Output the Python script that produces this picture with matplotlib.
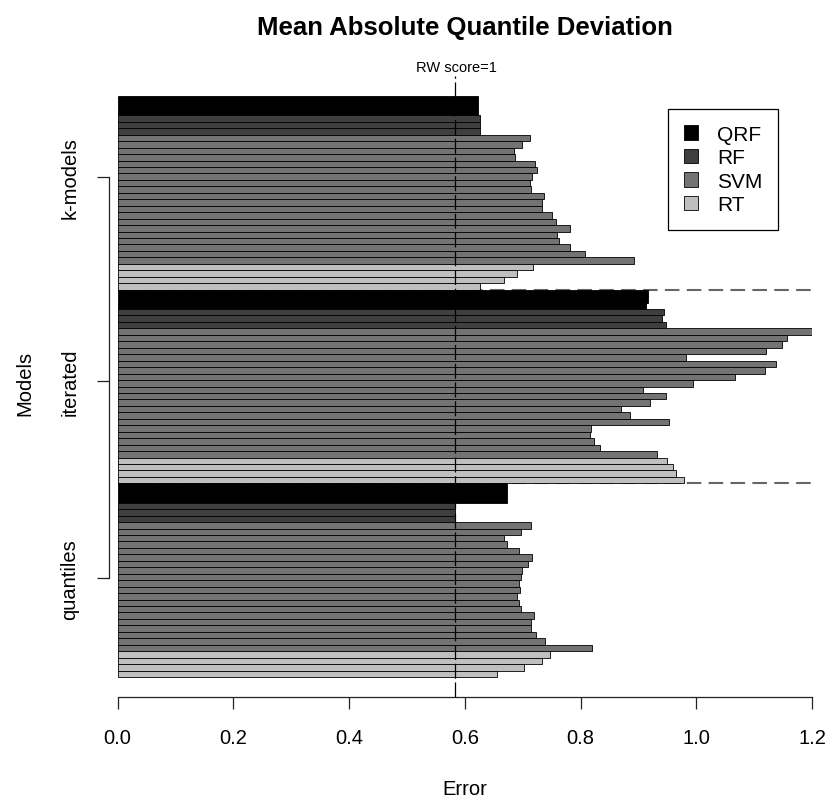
import matplotlib
matplotlib.use("Agg")
import matplotlib.pyplot as plt
from matplotlib.patches import Patch

plt.rcParams['font.family'] = ['Liberation Sans', 'DejaVu Sans']

# ---- data (each group read top-to-bottom) ----
groups = ["k-models", "iterated", "quantiles"]
models = ["QRF", "RF", "SVM", "RT"]
model_colors = ["#000000", "#3f3f3f", "#737373", "#bfbfbf"]

kmodels_qrf = [0.623, 0.623, 0.623]
kmodels_rf = [0.626, 0.626, 0.626]
kmodels_svm = [0.713, 0.699, 0.685, 0.687, 0.721, 0.725, 0.717, 0.713, 0.714, 0.737,
               0.734, 0.734, 0.750, 0.757, 0.782, 0.760, 0.762, 0.782, 0.808, 0.892]
kmodels_rt = [0.718, 0.691, 0.667, 0.626]

iterated_qrf = [0.917, 0.916, 0.914]
iterated_rf = [0.944, 0.940, 0.948]
iterated_svm = [1.204, 1.156, 1.149, 1.121, 0.982, 1.138, 1.118, 1.067, 0.995, 0.908,
                0.948, 0.920, 0.870, 0.885, 0.953, 0.819, 0.816, 0.823, 0.834, 0.932]
iterated_rt = [0.950, 0.959, 0.965, 0.978]

quantiles_qrf = [0.673, 0.673, 0.673]
quantiles_rf = [0.584, 0.584, 0.584]
quantiles_svm = [0.714, 0.698, 0.667, 0.673, 0.693, 0.717, 0.710, 0.699, 0.697, 0.694,
                 0.695, 0.691, 0.693, 0.698, 0.719, 0.714, 0.715, 0.723, 0.739, 0.820]
quantiles_rt = [0.747, 0.734, 0.702, 0.655]

rw_score = 0.583
group_tick_pos = [77.5, 45.8, 15.3]

group_data = [
    [kmodels_qrf, kmodels_rf, kmodels_svm, kmodels_rt],
    [iterated_qrf, iterated_rf, iterated_svm, iterated_rt],
    [quantiles_qrf, quantiles_rf, quantiles_svm, quantiles_rt],
]

values, colors = [], []
for g in group_data:
    for mi, series in enumerate(g):
        values.extend(series)
        colors.extend([model_colors[mi]] * len(series))
N = len(values)
ypos = [N - 1 - i + 0.5 for i in range(N)]

W, H = 831, 803
fig = plt.figure(figsize=(W / 100, H / 100), dpi=100)
ax = fig.add_axes([117.5 / W, 105 / H, 694.5 / W, 621 / H])

# group separators (behind bars)
n_per_group = N // len(groups)
for k in range(1, len(groups)):
    ax.axhline(k * n_per_group, color="#666666", lw=1.5, ls=(0, (7, 3.5)), zorder=1)

ax.barh(ypos, values, height=1.0, color=colors, edgecolor="black", linewidth=0.6, zorder=2)

ax.axvline(rw_score, color="black", lw=0.9, ls=(0, (12, 3)), zorder=3)

ax.set_xlim(0, 1.2)
ax.set_ylim(-3.1, 93.1)

ax.spines['top'].set_visible(False)
ax.spines['right'].set_visible(False)
ax.spines['bottom'].set_bounds(0, 1.2)
ax.spines['left'].set_position(('outward', 5.8))
ax.spines['left'].set_bounds(group_tick_pos[-1], group_tick_pos[0])
for sp in ax.spines.values():
    sp.set_linewidth(0.9)
    sp.set_color("#222222")

ax.set_xticks([0.0, 0.2, 0.4, 0.6, 0.8, 1.0, 1.2])
ax.set_xticklabels(["0.0", "0.2", "0.4", "0.6", "0.8", "1.0", "1.2"])
ax.set_yticks(group_tick_pos)
ax.set_yticklabels(groups, rotation=90, va="center")
ax.tick_params(axis='x', length=8.6, width=0.9, pad=14, labelsize=14.5, color="#222222")
ax.tick_params(axis='y', length=8.6, width=0.9, pad=13, labelsize=14.5, color="#222222")

fig.text(465 / W, 1 - 28 / H, "Mean Absolute Quantile Deviation", ha="center", va="center",
         fontsize=18.5, fontweight="bold")
fig.text(456 / W, 1 - 68 / H, "RW score=1", ha="center", va="center", fontsize=10.5)
fig.text(465 / W, 1 - 790 / H, "Error", ha="center", va="center", fontsize=14.5)
fig.text(25 / W, 1 - 383 / H, "Models", ha="center", va="center", fontsize=14.5, rotation=90)

handles = [Patch(facecolor=c, edgecolor="black", linewidth=0.6) for c in model_colors]
leg = ax.legend(handles, models, loc="upper left",
                bbox_to_anchor=(668 / W, 1 - 110 / H), bbox_transform=fig.transFigure,
                borderaxespad=0, fancybox=False, edgecolor="black", framealpha=1,
                fontsize=15, handlelength=0.7, handleheight=0.7, handletextpad=0.9,
                labelspacing=0.22, borderpad=0.75)
leg.get_frame().set_linewidth(0.9)

fig.savefig("out.png", dpi=100)
